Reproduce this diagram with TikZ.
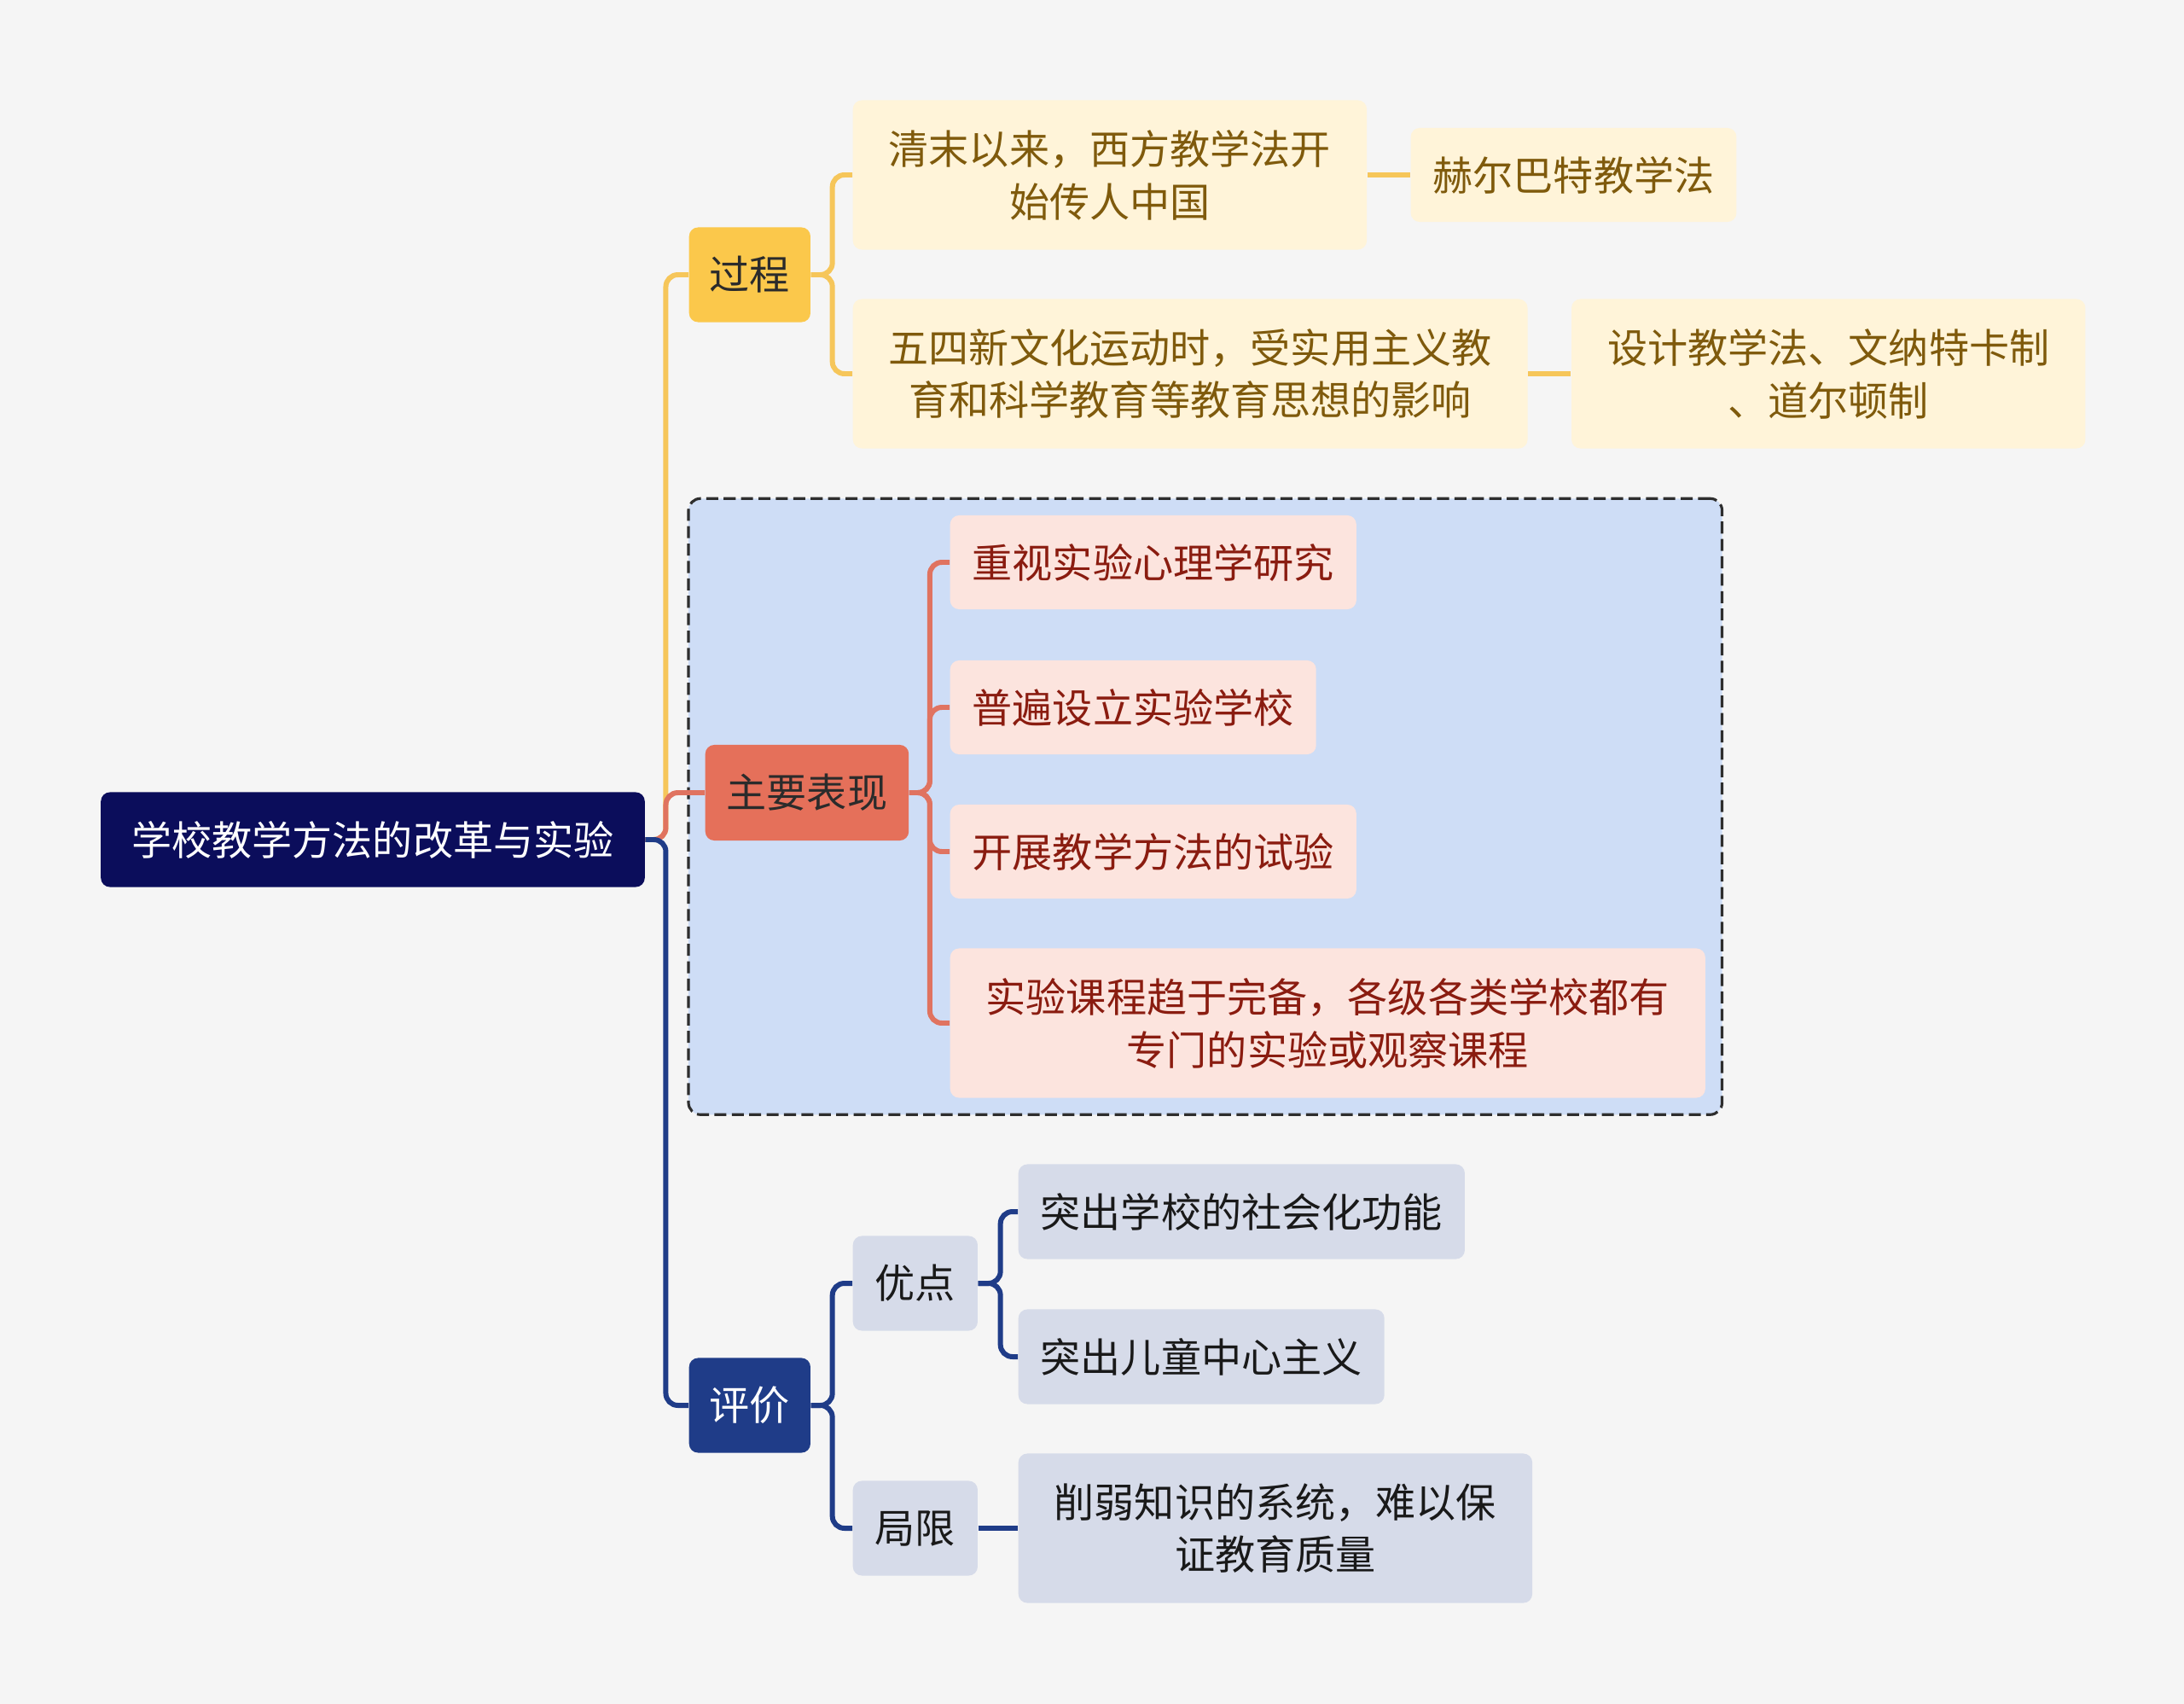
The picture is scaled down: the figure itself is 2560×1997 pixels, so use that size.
\documentclass[tikz,border=0pt]{standalone}
\usepackage{fontspec}
\setmainfont{Noto Sans CJK SC}
\usetikzlibrary{positioning,calc,fit,backgrounds}
\definecolor{pagegray}{HTML}{F5F5F5}
\definecolor{brandnavy}{HTML}{0B0D5B}
\definecolor{brandyellow}{HTML}{FBC84B}
\definecolor{softyellow}{HTML}{FFF4D9}
\definecolor{textgold}{HTML}{7F5A0C}
\definecolor{lineyellow}{HTML}{F6C65A}
\definecolor{brandcoral}{HTML}{E5705A}
\definecolor{softpink}{HTML}{FCE4DE}
\definecolor{textred}{HTML}{8A1C10}
\definecolor{linecoral}{HTML}{E07360}
\definecolor{softblue}{HTML}{CEDDF6}
\definecolor{brandblue}{HTML}{1F3C88}
\definecolor{softgray}{HTML}{D6DBE9}
\definecolor{darktext}{HTML}{2B2B2B}
\newcommand{\mapfont}{\fontsize{13.4pt}{17.6pt}\selectfont}
\tikzset{
  topic/.style={
    rectangle,
    rounded corners=3pt,
    fill=brandnavy,
    text=white,
    align=center,
    inner xsep=0.36cm,
    minimum height=1.11cm,
    font=\mapfont
  },
  yellowhead/.style={
    rectangle,
    rounded corners=3pt,
    fill=brandyellow,
    text=darktext,
    align=center,
    inner xsep=0.24cm,
    minimum height=1.11cm,
    font=\mapfont
  },
  yellowleaf/.style={
    rectangle,
    rounded corners=3pt,
    fill=softyellow,
    text=textgold,
    align=center,
    inner xsep=0.26cm,
    minimum height=1.1cm,
    font=\mapfont
  },
  coralhead/.style={
    rectangle,
    rounded corners=3pt,
    fill=brandcoral,
    text=darktext,
    align=center,
    inner xsep=0.25cm,
    minimum height=1.12cm,
    font=\mapfont
  },
  pinkleaf/.style={
    rectangle,
    rounded corners=3pt,
    fill=softpink,
    text=textred,
    align=center,
    inner xsep=0.26cm,
    minimum height=1.1cm,
    font=\mapfont
  },
  bluehead/.style={
    rectangle,
    rounded corners=3pt,
    fill=brandblue,
    text=white,
    align=center,
    inner xsep=0.24cm,
    minimum height=1.11cm,
    font=\mapfont
  },
  grayleaf/.style={
    rectangle,
    rounded corners=3pt,
    fill=softgray,
    text=black!90,
    align=center,
    inner xsep=0.26cm,
    minimum height=1.11cm,
    font=\mapfont
  },
  twoline/.style={inner xsep=0.42cm, minimum height=1.75cm},
  yline/.style={line width=1.7pt, draw=lineyellow, rounded corners=4pt},
  oline/.style={line width=1.7pt, draw=linecoral, rounded corners=4pt},
  bline/.style={line width=1.7pt, draw=brandblue, rounded corners=4pt},
  group/.style={draw=black!82, fill=softblue, dashed, dash pattern=on 4pt off 1.8pt,
    line width=0.9pt, rounded corners=4pt, inner sep=0.19cm}
}

\begin{document}
\begin{tikzpicture}[x=0.01cm, y=-0.01cm]
  \node[topic] (root) at (437,984) {学校教学方法的改革与实验};

  % process branch
  \node[yellowhead, anchor=west] (guo) at (807,322) {过程};
  \node[yellowleaf, twoline, anchor=west] (qm) at (999,205) {清末以来，西方教学法开\\始传人中国};
  \node[yellowleaf, right=0.5cm of qm] (he) {赫尔巴特教学法};
  \node[yellowleaf, twoline, anchor=west] (ws) at (999,438) {五四新文化运动时，受实用主义教\\育和科学教育等教育思想的影响};
  \node[yellowleaf, twoline, right=0.5cm of ws] (sj) {设计教学法、文纳特卡制\\、道尔顿制};

  % main features branch
  \node[coralhead, anchor=west] (zy) at (826,929) {主要表现};
  \node[pinkleaf, anchor=west] (p1) at (1113,659) {重视实验心理学研究};
  \node[pinkleaf, anchor=west] (p2) at (1113,829) {普遍设立实验学校};
  \node[pinkleaf, anchor=west] (p3) at (1113,998) {开展教学方法的试验};
  \node[pinkleaf, twoline, anchor=west] (p4) at (1113,1199) {实验课程趋于完备，各级各类学校都有\\专门的实验或观察课程};

  % evaluation branch
  \node[bluehead, anchor=west] (pj) at (807,1647) {评价};
  \node[grayleaf, anchor=west] (yd) at (999,1504) {优点};
  \node[grayleaf, anchor=west] (b1) at (1193,1420) {突出学校的社会化功能};
  \node[grayleaf, anchor=west] (b2) at (1193,1590) {突出儿童中心主义};
  \node[grayleaf, anchor=west] (jx) at (999,1791) {局限};
  \node[grayleaf, twoline, anchor=west] (b3) at (1193,1791) {削弱知识的系统，难以保\\证教育质量};

  \begin{scope}[on background layer]
    \fill[pagegray] (0,0) rectangle (2560,1997);
    \node[group, fit=(zy)(p1)(p2)(p3)(p4)] (grp) {};
  \end{scope}

  \draw[yline] (root.east) -- ++(24,0) |- (guo.west);
  \draw[oline] (root.east) -- ++(24,0) |- (zy.west);
  \draw[bline] (root.east) -- ++(24,0) |- (pj.west);

  \draw[yline] (guo.east) -- ++(25,0) |- (qm.west);
  \draw[yline] (guo.east) -- ++(25,0) |- (ws.west);
  \draw[yline] (qm) -- (he);
  \draw[yline] (ws) -- (sj);

  \foreach \leaf in {p1,p2,p3,p4}
    \draw[oline] (zy.east) -- ++(24,0) |- (\leaf.west);

  \draw[bline] (pj.east) -- ++(25,0) |- (yd.west);
  \draw[bline] (pj.east) -- ++(25,0) |- (jx.west);
  \draw[bline] (yd.east) -- ++(26,0) |- (b1.west);
  \draw[bline] (yd.east) -- ++(26,0) |- (b2.west);
  \draw[bline] (jx) -- (b3);
\end{tikzpicture}
\end{document}
